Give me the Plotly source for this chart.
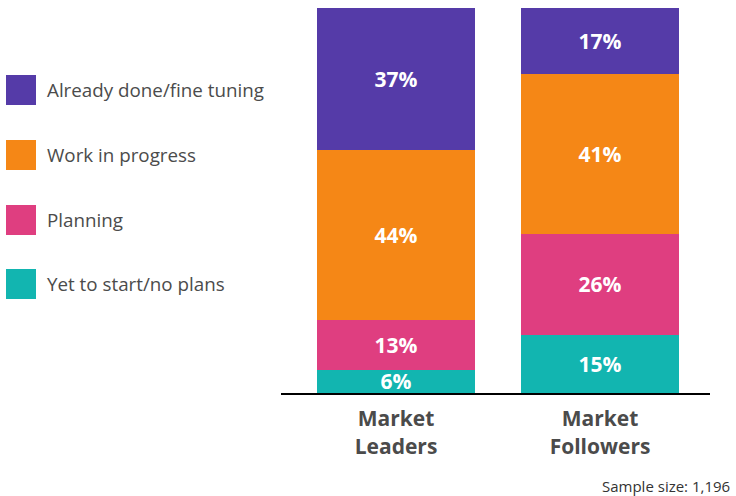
import plotly.graph_objects as go

categories = ["Market<br>Leaders", "Market<br>Followers"]
series_names = ["Yet to start/no plans", "Planning", "Work in progress", "Already done/fine tuning"]
yet_to_start = [6, 15]
planning = [13, 26]
work_in_progress = [44, 41]
already_done = [37, 17]
colors = ["#12B5B0", "#DF3E80", "#F58716", "#553BA8"]

series_values = [yet_to_start, planning, work_in_progress, already_done]

W, H = 736, 496
L, R, T, B = 281, 26, 8, 103
pw = W - L - R
ph = H - T - B

fig = go.Figure()
for name, vals, col in zip(series_names, series_values, colors):
    fig.add_trace(go.Bar(
        x=[0, 1], y=vals, name=name, marker=dict(color=col, line=dict(width=0)),
        text=[f"{v}%" for v in vals], textposition="inside", insidetextanchor="middle",
        textangle=0, width=0.7745,
        textfont=dict(family="Open Sans", size=21, color="white", weight="bold"),
        showlegend=False, hoverinfo="skip",
    ))

# custom legend (top entry first)
leg_y = [90, 155, 220, 284]
for i, (name, col) in enumerate(zip(series_names[::-1], colors[::-1])):
    cy = leg_y[i]
    fig.add_shape(type="rect", xref="paper", yref="paper",
                  x0=(6 - L) / pw, x1=(36 - L) / pw,
                  y0=(H - B - (cy + 15)) / ph, y1=(H - B - (cy - 15)) / ph,
                  fillcolor=col, line=dict(width=0))
    fig.add_annotation(xref="paper", yref="paper", x=(45 - L) / pw, y=(H - B - cy) / ph,
                       text=name, showarrow=False, xanchor="left", yanchor="middle",
                       font=dict(family="Open Sans", size=18.8, color="#4B4B4B"))

fig.add_annotation(xref="paper", yref="paper", x=(732 - L) / pw, y=(H - B - 486) / ph,
                   text="Sample size: 1,196", showarrow=False, xanchor="right", yanchor="middle",
                   font=dict(family="Open Sans", size=15, color="#333333"))

fig.update_layout(
    barmode="stack", barnorm="percent",
    width=W, height=H, margin=dict(l=L, r=R, t=T, b=B, autoexpand=False),
    plot_bgcolor="white", paper_bgcolor="white",
    uniformtext=dict(minsize=19, mode="show"),
    xaxis=dict(range=[-0.5637, 1.539], tickvals=[0, 1], ticktext=categories,
               showline=True, linecolor="black", linewidth=2, showgrid=False,
               zeroline=False, ticks="", ticklabelstandoff=6,
               tickfont=dict(family="Open Sans", size=21, color="#4B4B4B", weight="bold")),
    yaxis=dict(range=[0, 100], visible=False, showgrid=False, zeroline=False),
)

fig.write_html("out.html", config={"displayModeBar": False},
               post_script="document.body.style.margin='0';document.body.style.overflow='hidden';")
